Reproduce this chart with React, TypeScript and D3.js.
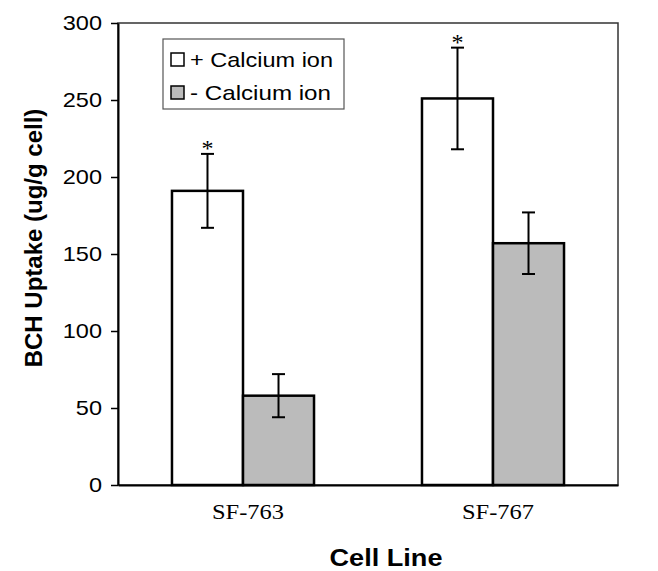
import React, { useEffect, useRef } from 'react';
import * as d3 from 'd3';

const categories = ['SF-763', 'SF-767'];
const seriesNames = ['+ Calcium ion', '- Calcium ion'];
const withCalcium = [191, 251];
const withCalciumErr = [24, 33];
const withoutCalcium = [58, 157];
const withoutCalciumErr = [14, 20];
const significant = [true, true]; // asterisk over the + calcium bars
const yTicks = [0, 50, 100, 150, 200, 250, 300];
const seriesFill = ['#ffffff', '#bbbbbb'];

const App = () => {
  const ref = useRef<SVGSVGElement | null>(null);

  useEffect(() => {
    const width = 658;
    const height = 571;
    const margin = { top: 23, right: 40, bottom: 86, left: 118 };

    const svg = d3.select(ref.current);
    svg.selectAll('*').remove();

    const x0 = d3.scaleBand()
      .domain(categories)
      .range([margin.left, width - margin.right])
      .padding(0);

    const x1 = d3.scaleBand()
      .domain(seriesNames)
      .range([0, x0.bandwidth()])
      .paddingInner(0)
      .paddingOuter(0.76);

    const y = d3.scaleLinear()
      .domain([0, 300])
      .range([height - margin.bottom, margin.top]);

    const rows = categories.map((c, i) => ([
      { cat: c, s: seriesNames[0], v: withCalcium[i], e: withCalciumErr[i], fill: seriesFill[0], star: significant[i] },
      { cat: c, s: seriesNames[1], v: withoutCalcium[i], e: withoutCalciumErr[i], fill: seriesFill[1], star: false },
    ])).flat();

    // plot frame (top/right)
    svg.append('rect')
      .attr('x', margin.left)
      .attr('y', margin.top)
      .attr('width', width - margin.left - margin.right)
      .attr('height', height - margin.top - margin.bottom)
      .attr('fill', 'none')
      .attr('stroke', '#333')
      .attr('stroke-width', 1.5);

    // bars
    svg.selectAll('.bar')
      .data(rows)
      .enter().append('rect')
      .attr('class', 'bar')
      .attr('x', d => x0(d.cat)! + x1(d.s)!)
      .attr('y', d => y(d.v))
      .attr('width', x1.bandwidth())
      .attr('height', d => y(0) - y(d.v))
      .attr('fill', d => d.fill)
      .attr('stroke', '#000')
      .attr('stroke-width', 2.5);

    // error bars
    const err = svg.selectAll('.err')
      .data(rows)
      .enter().append('g')
      .attr('class', 'err')
      .attr('stroke', '#000')
      .attr('stroke-width', 2);
    const cx = (d: any) => x0(d.cat)! + x1(d.s)! + x1.bandwidth() / 2;
    err.append('line')
      .attr('x1', cx).attr('x2', cx)
      .attr('y1', d => y(d.v + d.e)).attr('y2', d => y(d.v - d.e));
    err.append('line')
      .attr('x1', d => cx(d) - 6.5).attr('x2', d => cx(d) + 6.5)
      .attr('y1', d => y(d.v + d.e)).attr('y2', d => y(d.v + d.e));
    err.append('line')
      .attr('x1', d => cx(d) - 6.5).attr('x2', d => cx(d) + 6.5)
      .attr('y1', d => y(d.v - d.e)).attr('y2', d => y(d.v - d.e));

    // asterisks
    svg.selectAll('.star')
      .data(rows.filter(d => d.star))
      .enter().append('text')
      .attr('class', 'star')
      .attr('x', cx)
      .attr('y', d => y(d.v + d.e) + 2)
      .attr('text-anchor', 'middle')
      .style('font-family', '"Liberation Serif", "Times New Roman", serif')
      .style('font-size', '24px')
      .text('*');

    // y axis
    const yAxis = svg.append('g')
      .attr('transform', `translate(${margin.left},0)`)
      .call(d3.axisLeft(y).tickValues(yTicks).tickSize(7).tickPadding(9).tickSizeOuter(0));
    yAxis.select('.domain').attr('stroke', '#000').attr('stroke-width', 2);
    yAxis.selectAll('.tick line').attr('stroke', '#000').attr('stroke-width', 1.5);
    yAxis.selectAll('text')
      .attr('class', 'wide')
      .attr('fill', '#000')
      .style('font-family', '"Liberation Sans", Arial, sans-serif')
      .style('font-size', '21px');

    // x axis
    const xAxis = svg.append('g')
      .attr('transform', `translate(0,${y(0)})`)
      .call(d3.axisBottom(x0).tickSize(0).tickPadding(19));
    xAxis.select('.domain').attr('stroke', '#000').attr('stroke-width', 2);
    xAxis.selectAll('text')
      .attr('class', 'wide')
      .attr('dx', 5)
      .attr('fill', '#000')
      .style('font-family', '"Liberation Serif", "Times New Roman", serif')
      .style('font-size', '21px');

    // axis titles
    svg.append('text')
      .attr('class', 'wide')
      .attr('x', 386)
      .attr('y', 566)
      .attr('text-anchor', 'middle')
      .style('font-family', '"Liberation Sans", Arial, sans-serif')
      .style('font-weight', 'bold')
      .style('font-size', '23px')
      .text('Cell Line');

    svg.append('text')
      .attr('transform', 'translate(42,238) rotate(-90)')
      .attr('text-anchor', 'middle')
      .style('font-family', '"Liberation Sans", Arial, sans-serif')
      .style('font-weight', 'bold')
      .style('font-size', '24px')
      .text('BCH Uptake (ug/g cell)');

    // legend
    const legend = svg.append('g');
    legend.append('rect')
      .attr('x', 163).attr('y', 39)
      .attr('width', 181).attr('height', 70)
      .attr('fill', '#fff')
      .attr('stroke', '#555')
      .attr('stroke-width', 1.2);
    seriesNames.forEach((name, i) => {
      legend.append('rect')
        .attr('x', 171).attr('y', 53 + i * 33)
        .attr('width', 13).attr('height', 13)
        .attr('fill', seriesFill[i])
        .attr('stroke', '#000')
        .attr('stroke-width', 1.5);
      legend.append('text')
        .attr('class', 'wide')
        .attr('x', 190).attr('y', 67 + i * 33)
        .style('font-family', '"Liberation Sans", Arial, sans-serif')
        .style('font-size', '21px')
        .text(name);
    });

    // text in the picture runs a bit wider than the font; stretch to match
    const targetWidth: Record<string, number> = {
      'SF-763': 72, 'SF-767': 72, 'Cell Line': 113,
      '+ Calcium ion': 143, '- Calcium ion': 141,
    };
    svg.selectAll<SVGTextElement, unknown>('text.wide').each(function () {
      const len = this.getComputedTextLength();
      const t = this.textContent || '';
      const w = targetWidth[t] ?? len * 1.12;
      d3.select(this)
        .attr('textLength', w)
        .attr('lengthAdjust', 'spacingAndGlyphs');
    });
  }, []);

  return (
    <svg
      ref={ref}
      width={658}
      height={571}
      style={{ position: 'absolute', left: 0, top: 0, background: '#fff' }}
    />
  );
};

export default App;
